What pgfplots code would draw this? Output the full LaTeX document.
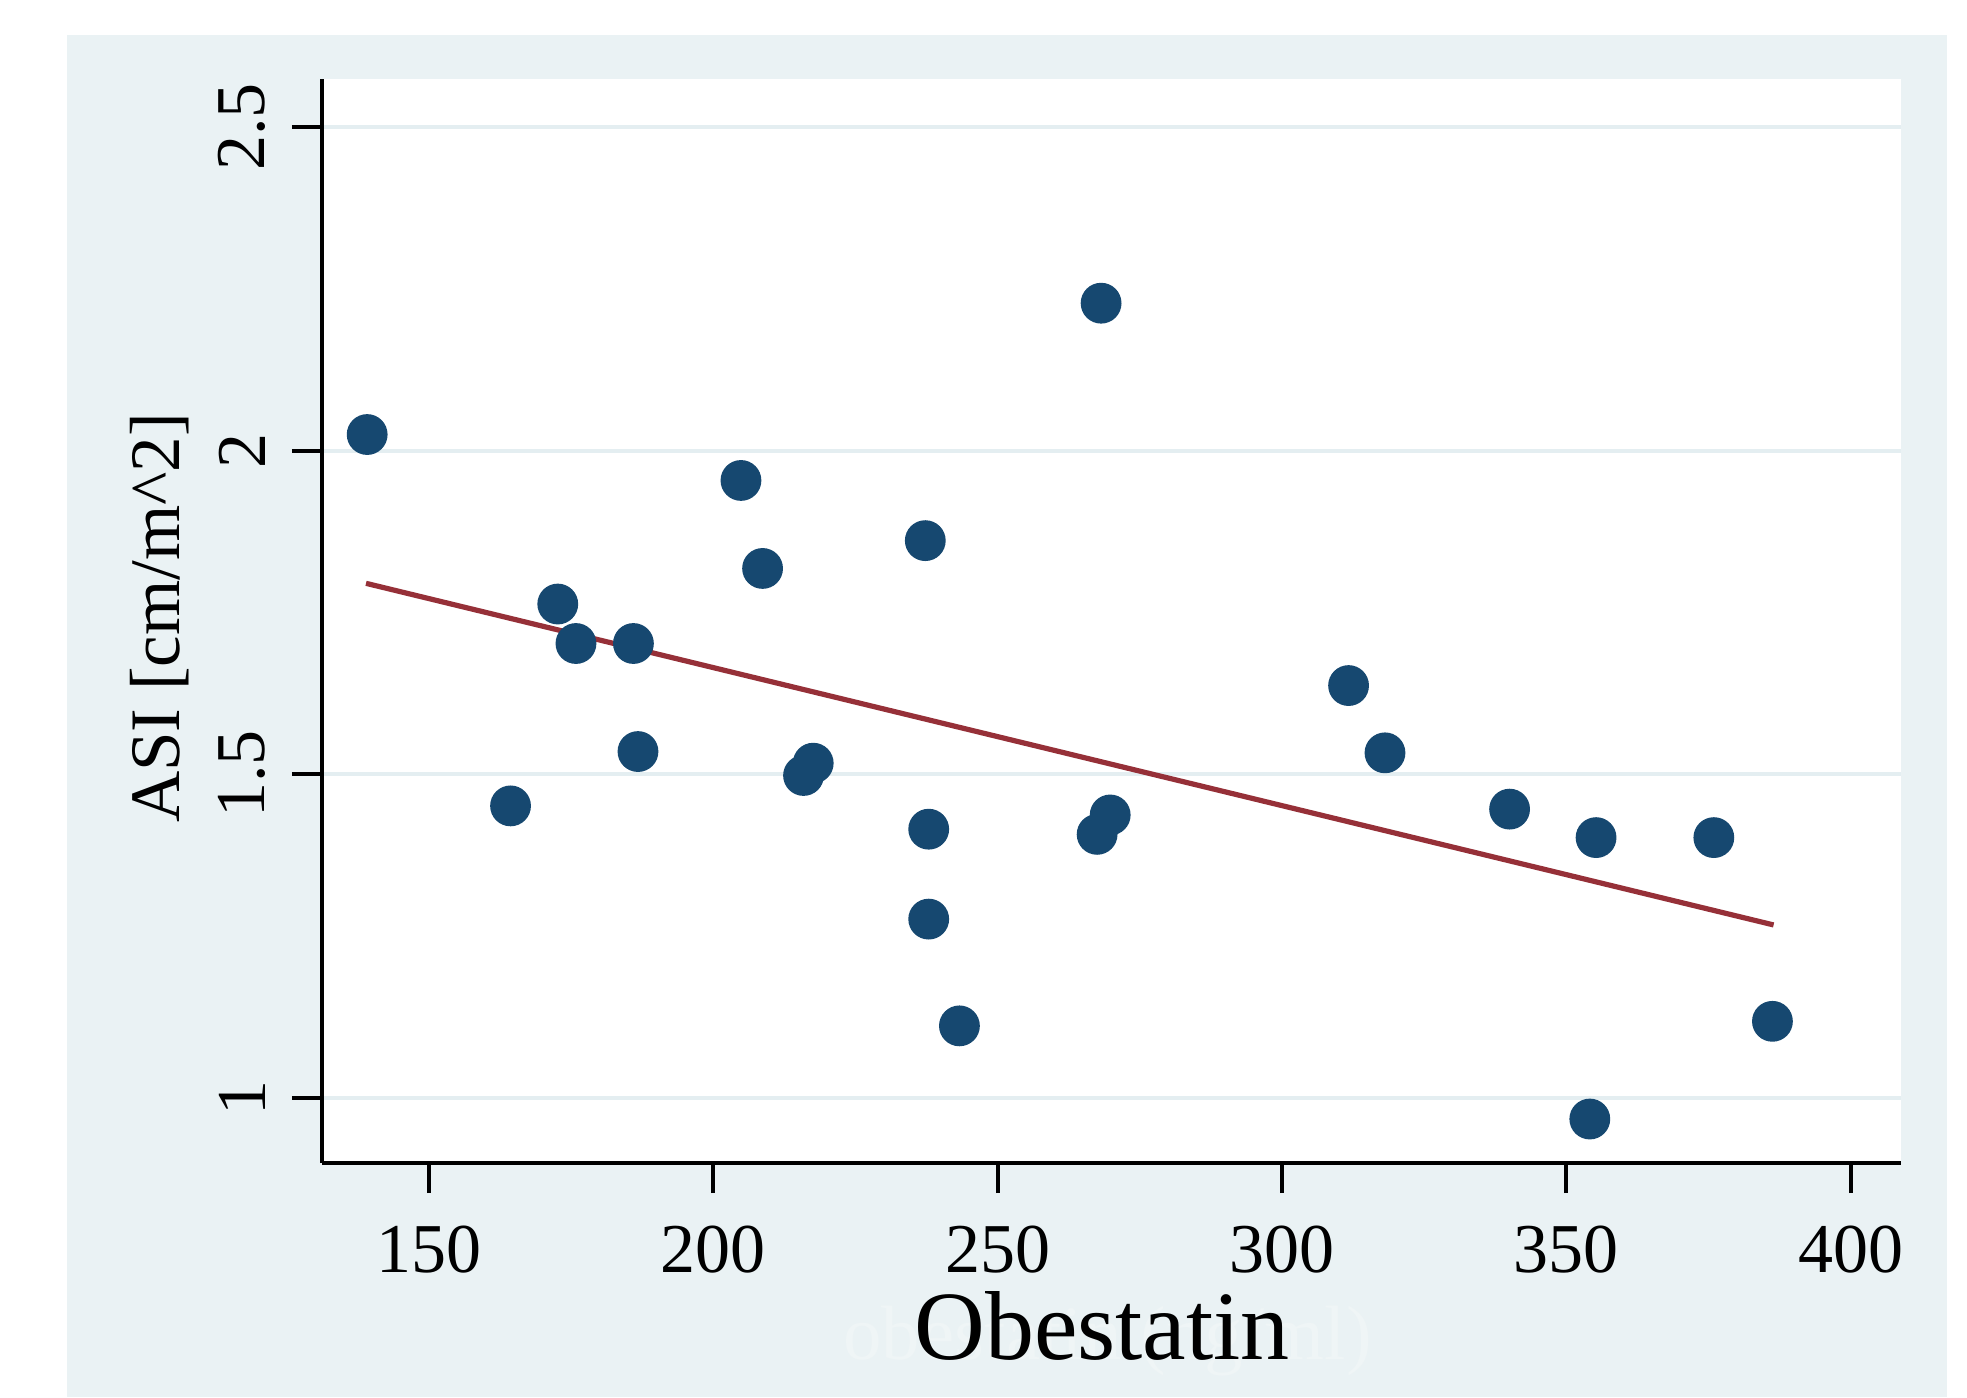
\documentclass[border=0pt]{standalone}
\usepackage{fontspec}
\setmainfont{Liberation Serif}
\usepackage{pgfplots}
\pgfplotsset{compat=1.18}

\definecolor{panel}{RGB}{234,242,244}
\definecolor{gridc}{RGB}{228,238,241}
\definecolor{navy}{RGB}{22,72,112}
\definecolor{maroon}{RGB}{150,48,56}

\begin{document}
\begin{tikzpicture}
  % outer light panel and page extent (1px = 0.25pt)
  \useasboundingbox (-80.5pt,-58.5pt) rectangle (411.25pt,290.75pt);
  \fill[panel] (-63.75pt,-58.5pt) rectangle (406.25pt,282pt);
  \begin{axis}[
      at={(0pt,0pt)}, anchor=south west,
      scale only axis,
      width=394.75pt, height=271pt,
      xmin=131.26, xmax=408.8,
      ymin=0.899, ymax=2.5745,
      xtick={150,200,...,400},
      ytick={1,1.5,2,2.5},
      axis x line=bottom, axis y line=left,
      axis line style={-, line width=1pt, black},
      tick align=outside,
      major tick length=7.5pt,
      tick style={line width=1pt, black},
      axis background/.style={fill=white},
      ymajorgrids=true,
      grid style={gridc, line width=1pt},
      /pgf/number format/assume math mode=true,
      ticklabel style={font=\fontsize{17.5}{20}\selectfont},
      xticklabel style={yshift=-4.7pt},
      yticklabel style={xshift=-3pt, rotate=90, anchor=south},
      xlabel={Obestatin},
      ylabel={ASI [cm/m\^{}2]},
      every axis x label/.style={at={([yshift=-49pt]axis description cs:0.494,0)}, anchor=base, font=\fontsize{24.5}{28}\selectfont},
      every axis y label/.style={at={([xshift=-35.5pt]axis description cs:0,0.503)}, rotate=90, anchor=base, font=\fontsize{17.75}{20}\selectfont},
      clip=false,
    ]
    % faint leftover caption behind the axis title
    \node[text=white!22!panel, font=\fontsize{19.25}{22}\selectfont, anchor=base]
      at ([yshift=-49pt]axis description cs:0.4975,0) {obestatin (ng/ml)};
    \addplot[only marks, mark=*, mark size=4.9pt, mark options={draw=navy, fill=navy}] coordinates {
      (139.2,2.025) (164.4,1.451) (172.7,1.763) (175.9,1.702) (186.0,1.702)
      (186.8,1.535) (204.9,1.954) (208.7,1.818) (215.9,1.498) (217.6,1.517)
      (237.3,1.861) (237.9,1.415) (237.9,1.276) (243.3,1.111) (268.2,2.228)
      (267.5,1.407) (269.8,1.437) (311.7,1.637) (318.1,1.533) (340.0,1.446)
      (355.2,1.402) (375.9,1.402) (386.2,1.118) (354.1,0.967)
    };
    \addplot[maroon, line width=1.3pt] coordinates {(139.0,1.795) (386.4,1.267)};
  \end{axis}
\end{tikzpicture}
\end{document}
